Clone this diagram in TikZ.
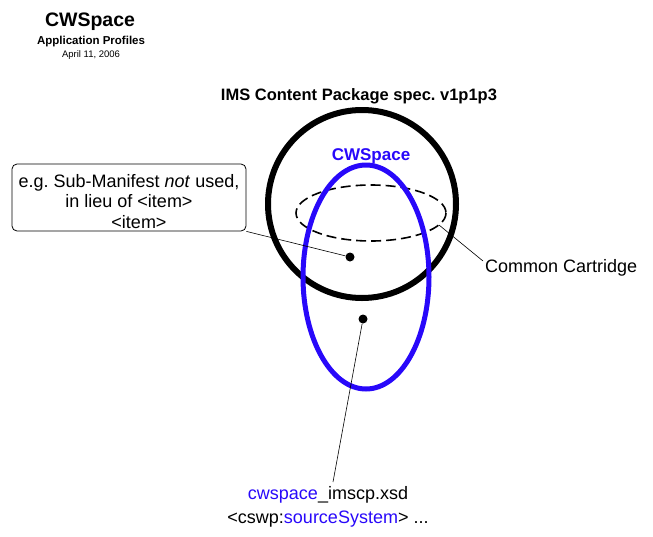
\documentclass[tikz,border=0pt]{standalone}
\usepackage{fontspec}
\setmainfont{Liberation Sans}
\definecolor{cwblue}{RGB}{40,8,250}
\newcommand{\fs}[1]{\fontsize{#1}{#1}\selectfont}
\tikzset{
  dot/.style={circle,fill=black,inner sep=0pt,minimum size=9pt},
  lbl/.style={inner sep=0pt,font=\fs{18}},
}
\begin{document}
\frenchspacing
\begin{tikzpicture}[x=1pt,y=-1pt]
			\useasboundingbox (0,0) rectangle (653,536);

			% Titel
			\node[inner sep=0pt,font=\bfseries\fs{19.5}] (title) at (90,22) {CWSpace};
			\node[inner sep=0pt,font=\bfseries\fs{11.5}] (sub) at (91,42) {Application Profiles};
			\node[inner sep=0pt,font=\fs{9.5}] (date) at (91,55) {April 11, 2006};

			% IMS Kreis
			\draw[line width=6pt] (362,204) circle (94);
			\node[inner sep=0pt,font=\bfseries\fs{16.5}] (ims) at (359,96) {IMS Content Package spec. v1p1p3};

			% Common Cartridge
			\draw[line width=1.6pt,dash pattern=on 10pt off 5pt] (371,213) ellipse (75 and 28);
			\coordinate (ccedge) at (439,225);
			\node[lbl,anchor=west] (cc) at (485,268) {Common Cartridge};
			\coordinate (ccend) at (483,261);
			\draw[line width=0.6pt] (ccedge) -- (ccend);

			% CWSpace Ellipse
			\draw[cwblue,line width=5pt] (366,277) ellipse (63 and 112);
			\node[inner sep=0pt,text=cwblue,font=\bfseries\fs{17}] (cws) at (371,156) {CWSpace};

			% Punkte
			\node[dot] (dotA) at (350,257) {};
			\node[dot] (dotB) at (363,319) {};

			% Notiz
			\node[draw,rounded corners=5pt,line width=0.8pt,minimum width=234pt,minimum height=67pt,
			      align=center,font=\fontsize{18}{20.5}\selectfont,inner sep=0pt] (note) at (129,197.5)
			      {\rule{0pt}{21pt}e.g. Sub-Manifest \textit{not} used,\\ in lieu of <item>\\ \hspace*{20pt}<item>};
			\draw[line width=0.6pt] (note.south east) -- (dotA);

			% Schema
			\node[lbl] (xsd) at (328,495) {\textcolor{cwblue}{cwspace}\_imscp.xsd};
			\node[lbl] (src) at (328,519) {<cswp:\textcolor{cwblue}{sourceSystem}> ...};
			\coordinate (xsdtop) at (333,482);
			\draw[line width=0.6pt] (dotB) -- (xsdtop);

		\end{tikzpicture}
\end{document}
